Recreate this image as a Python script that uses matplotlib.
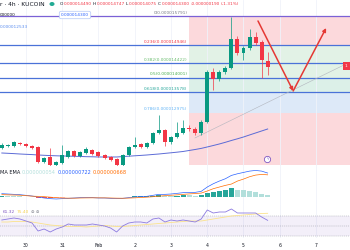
import numpy as np
import matplotlib
matplotlib.use("Agg")
import matplotlib.pyplot as plt
from matplotlib.patches import Rectangle, FancyArrowPatch

# 4h candles from Jan 29 08:00, prices in 1e-6 USDT
opens = [11.954, 12.012, 12.012, 12.099, 12.070, 12.012, 11.983, 11.547, 11.692, 11.460,
         11.518, 11.692, 11.866, 11.721, 11.808, 11.896, 11.837, 11.750, 11.692, 11.634,
         11.460, 11.750, 11.983, 12.070, 11.983, 12.099, 12.390, 12.477, 12.128, 12.273,
         12.390, 12.535, 12.506, 12.390, 12.709, 14.163, 13.960, 14.163, 14.279, 15.122,
         14.715, 14.861, 15.180, 15.035, 14.490]
highs = [12.099, 12.070, 12.157, 12.128, 12.099, 12.041, 12.012, 11.692, 11.954, 11.576,
         12.041, 11.896, 11.896, 11.866, 11.983, 11.925, 11.866, 11.779, 11.721, 11.663,
         11.779, 12.012, 12.273, 12.099, 12.128, 12.419, 12.913, 12.506, 12.303, 12.709,
         12.768, 12.622, 12.564, 12.768, 14.221, 14.279, 14.221, 14.337, 15.762, 15.209,
         14.919, 15.413, 15.326, 15.093, 14.747]
lows = [11.925, 11.983, 11.983, 12.041, 11.983, 11.925, 11.518, 11.518, 11.431, 11.431,
        11.489, 11.663, 11.692, 11.692, 11.779, 11.750, 11.692, 11.634, 11.576, 11.431,
        11.431, 11.721, 11.954, 11.954, 11.954, 12.070, 12.361, 12.012, 12.070, 12.245,
        12.361, 12.448, 12.332, 12.332, 12.680, 13.640, 13.887, 14.105, 14.250, 14.657,
        14.512, 14.803, 14.948, 13.989, 14.075]
closes = [12.041, 12.041, 12.128, 12.070, 12.012, 11.954, 11.547, 11.663, 11.460, 11.547,
          11.750, 11.866, 11.721, 11.837, 11.925, 11.779, 11.721, 11.663, 11.605, 11.460,
          11.750, 11.983, 12.041, 11.983, 12.099, 12.390, 12.477, 12.128, 12.273, 12.390,
          12.535, 12.506, 12.390, 12.709, 14.163, 13.960, 14.163, 14.279, 15.122, 14.715,
          14.861, 15.180, 15.006, 14.512, 14.300]
ma_line = [11.808, 11.799, 11.790, 11.779, 11.770, 11.762, 11.750, 11.741, 11.733, 11.727,
           11.721, 11.718, 11.712, 11.707, 11.701, 11.698, 11.692, 11.692, 11.692, 11.692,
           11.704, 11.715, 11.727, 11.738, 11.750, 11.765, 11.779, 11.797, 11.814, 11.832,
           11.852, 11.881, 11.910, 11.942, 11.983, 12.026, 12.070, 12.119, 12.172, 12.221,
           12.273, 12.332, 12.390, 12.448, 12.506]

# MACD pane (1e-6)
macd = [0.10, 0.09, 0.08, 0.07, 0.05, 0.03, 0.00, -0.03, -0.05, -0.06,
        -0.05, -0.04, -0.03, -0.02, -0.02, -0.02, -0.03, -0.03, -0.04, -0.05,
        -0.04, -0.02, 0.00, 0.01, 0.02, 0.05, 0.08, 0.08, 0.09, 0.11,
        0.13, 0.14, 0.14, 0.17, 0.30, 0.40, 0.48, 0.55, 0.65, 0.70,
        0.74, 0.78, 0.80, 0.78, 0.722]
signal = [0.07, 0.065, 0.06, 0.055, 0.04, 0.025, 0.02, 0.01, -0.005, -0.02,
          -0.03, -0.035, -0.035, -0.03, -0.027, -0.025, -0.026, -0.027, -0.03, -0.035,
          -0.037, -0.033, -0.025, -0.015, -0.005, 0.008, 0.025, 0.04, 0.052, 0.065,
          0.08, 0.093, 0.104, 0.118, 0.18, 0.25, 0.30, 0.35, 0.39, 0.48,
          0.54, 0.61, 0.66, 0.68, 0.668]
hist = [0.03, 0.025, 0.02, 0.015, 0.01, 0.005, -0.02, -0.04, -0.045, -0.04,
        -0.02, -0.005, 0.005, 0.01, 0.007, 0.005, -0.004, -0.003, -0.01, -0.015,
        -0.003, 0.013, 0.025, 0.025, 0.025, 0.042, 0.055, 0.04, 0.038, 0.045,
        0.05, 0.047, 0.036, 0.052, 0.12, 0.15, 0.18, 0.20, 0.26, 0.22,
        0.20, 0.17, 0.14, 0.10, 0.054]

# RSI pane
rsi = [62, 64, 66, 64, 60, 56, 40, 44, 38, 44,
       48, 54, 52, 52, 52, 54, 52, 50, 46, 38,
       50, 56, 58, 58, 56, 64, 66, 58, 62, 60,
       62, 60, 58, 64, 82, 76, 78, 78, 84, 76,
       76, 76, 76, 68, 61.32]
rsi_ma = [58, 58, 59, 59, 59, 58, 56, 54, 52, 51,
          50, 49, 49, 49, 48, 49, 50, 51, 50, 49,
          49, 50, 51, 52, 53, 54, 55, 56, 57, 58,
          59, 60, 60, 60, 62, 64, 66, 68, 70, 71,
          72, 73, 74, 75, 75.40]

fib_ratio = ["0", "0.236", "0.382", "0.5", "0.618", "0.786"]
fib_price = [15.791, 14.946, 14.422, 14.001, 13.578, 12.975]
fib_bottom = 11.46
fib_start = 4.5  # days after Jan 30 00:00

day_labels = ["30", "31", "Feb", "2", "3", "4", "5", "6", "7"]

# hand drawn projection and trend line
proj_t = [6.40, 7.37, 8.28]
proj_p = [15.646, 13.611, 15.442]
trend_t = [4.66, 8.94]
trend_p = [12.244, 14.454]

W, H = 350, 250
UP, DOWN = "#089981", "#f23645"
DARK = "#131722"

t = np.arange(len(opens)) / 6 - 2 / 3
xlim = (-0.717, 8.938)

fig = plt.figure(figsize=(3.5, 2.5), dpi=100)
ax = fig.add_axes([0, 0.336, 1, 0.664])
ax_m = fig.add_axes([0, 0.184, 1, 0.152])
ax_r = fig.add_axes([0, 0.048, 1, 0.136])

for a in (ax, ax_m, ax_r):
    a.set_xlim(*xlim)
    for s in a.spines.values():
        s.set_visible(False)
    a.set_yticks([])
    a.set_xticks(range(len(day_labels)))
    a.tick_params(length=0)
    a.grid(axis="x", color="#f0f3fa", lw=0.6)
    a.set_axisbelow(True)
    a.set_xticklabels([])
ax_r.set_xticklabels(day_labels, fontsize=3.3, color=DARK)
ax_r.tick_params(axis="x", pad=3.5)

# main pane
ax.set_ylim(11.43, 16.256)
zone_colors = ["#fcd9dc", "#e2f2e6", "#e2f2e6", "#dcf0e8", "#dde9f8", "#fcd9dc"]
edges = fib_price + [fib_bottom]
for i, c in enumerate(zone_colors):
    ax.add_patch(Rectangle((fib_start, edges[i + 1]), 10, edges[i] - edges[i + 1],
                           color=c, lw=0, zorder=0))
for i, p in enumerate(fib_price[:5]):
    ax.axhline(p, color="#7b61d6" if i == 0 else "#4a72d8", lw=0.9, zorder=1)
lab_colors = ["#787b86", "#f23645", "#66bb6a", "#4caf50", "#26a69a", "#64b5f6"]
for r, p, c in zip(fib_ratio, fib_price, lab_colors):
    ax.text(fib_start - 0.05, p + 0.04, f"{r}(0.0000{p * 1000:.0f})", fontsize=3.1,
            color=c, ha="right", va="bottom")

ax.plot(trend_t, trend_p, color="#b2b5be", lw=0.4, zorder=2)
ax.plot(t, ma_line, color="#5c6bd6", lw=0.7, zorder=2)

colors = [UP if c >= o else DOWN for o, c in zip(opens, closes)]
ax.vlines(t, lows, highs, colors=colors, lw=0.5, zorder=3)
bodies = [max(abs(c - o), 0.02) for o, c in zip(opens, closes)]
ax.bar(t, bodies, bottom=np.minimum(opens, closes), width=0.11, color=colors, lw=0, zorder=4)

for a_, b_ in ((0, 1), (1, 2)):
    ax.add_patch(FancyArrowPatch((proj_t[a_], proj_p[a_]), (proj_t[b_], proj_p[b_]),
                                 arrowstyle="-|>", mutation_scale=5, color="#e53935",
                                 lw=1.1, shrinkA=0, shrinkB=0, zorder=6))

# current price tag, cut by the right edge as in the screenshot
ax.add_patch(Rectangle((8.745, 14.22), 1, 0.234, color=DOWN, lw=0, zorder=7))
ax.text(8.8, 14.337, "1", fontsize=3.1, color="white", va="center", zorder=8)

ax.plot([6.66], [11.62], "o", ms=4.5, mfc="white", mec="#7e57c2", mew=0.6, zorder=6)
ax.text(6.66, 11.62, "ϟ", fontsize=2.6, color="#7e57c2", ha="center", va="center", zorder=7)

# macd pane
ax_m.set_ylim(-0.211, 0.934)
hc = []
for i, h in enumerate(hist):
    prev = hist[i - 1] if i else h
    if h >= 0:
        hc.append("#26a69a" if h >= prev else "#b2dfdb")
    else:
        hc.append("#ff5252" if h <= prev else "#ffcdd2")
ax_m.bar(t, hist, width=0.14, color=hc, lw=0)
ax_m.plot(t, macd, color="#2962ff", lw=0.5)
ax_m.plot(t, signal, color="#ff6d00", lw=0.5)

# rsi pane
ax_r.set_ylim(26, 94)
ax_r.axhspan(30, 70, color="#7e57c2", alpha=0.09, lw=0)
for lvl in (70, 50, 30):
    ax_r.axhline(lvl, color="#9598a1", lw=0.35, ls=(0, (2, 2)))
ax_r.plot(t, rsi_ma, color="#fbe38c", lw=0.6)
ax_r.plot(t, rsi, color="#8c7ae0", lw=0.6)

# legend-like texts, laid out in pixels
renderer = fig.canvas.get_renderer()


def row(x, y, parts, size=3.1, gap=1.6):
    for s, c in parts:
        tx = fig.text(x / W, 1 - y / H, s, fontsize=size, color=c, va="center")
        x += tx.get_window_extent(renderer=renderer).width + gap
    return x


row(0, 4, [("r · 4h · KUCOIN", DARK)], size=4.3)
fig.add_artist(plt.Circle((52 / W, 1 - 4 / H), 1.8 / W, color="#22ab94",
                          transform=fig.transFigure))
row(60, 4, [("O", DARK), ("0.000014490", DOWN), ("H", DARK), ("0.000014747", DOWN),
            ("L", DARK), ("0.000014075", DOWN), ("C", DARK), ("0.000014300", DOWN),
            ("-0.000000190", DOWN), ("(-1.31%)", DOWN)], gap=0.8)
fig.text(0, 1 - 15 / H, "000000", fontsize=3.1, color=DARK, va="center")
fig.text(75 / W, 1 - 15 / H, "0.000014300", fontsize=3.1, color="#2962ff", va="center",
         ha="center", bbox=dict(boxstyle="round,pad=0.4", fc="white", ec="#b3c7f7", lw=0.5))
fig.text(0, 1 - 27 / H, "0.000012533", fontsize=3.1, color="#5b8def", va="center")
row(0, 173, [("MA EMA", DARK), ("0.000000054", "#b2dfdb"), ("0.000000722", "#2962ff"),
             ("0.000000668", "#ff6d00")], size=3.6)
row(3, 212, [("61.32", "#7e57c2"), ("75.40", "#f5d24b"), ("⊘ ⊘", "#787b86")])

fig.savefig("out.png", dpi=100)
